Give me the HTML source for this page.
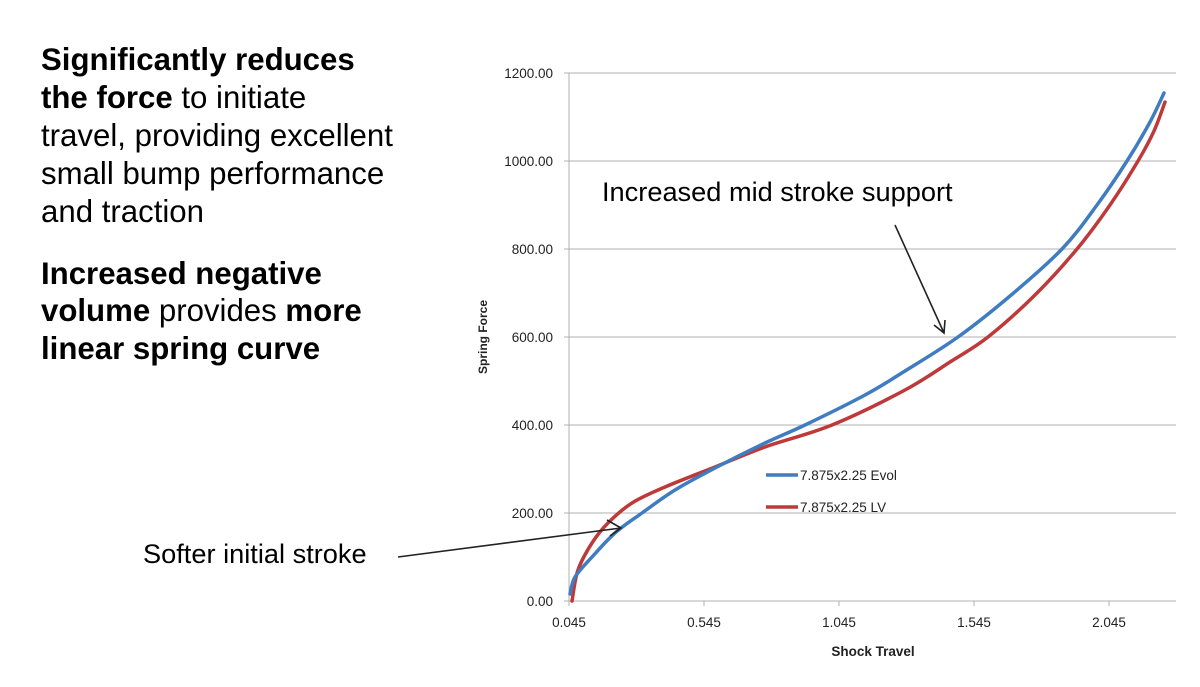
<!DOCTYPE html>
<html><head><style>
body{margin:0;background:#fff;width:1200px;height:687px;overflow:hidden}
</style></head><body>
<svg width="1200" height="687" xmlns="http://www.w3.org/2000/svg" style="position:absolute;left:0;top:0">
<g font-family="Liberation Sans, Arial, sans-serif" font-size="31.2" fill="#000">
<text x="41" y="70" font-weight="bold">Significantly reduces</text>
<text x="41" y="108"><tspan font-weight="bold">the force</tspan> to initiate</text>
<text x="41" y="146">travel, providing excellent</text>
<text x="41" y="184">small bump performance</text>
<text x="41" y="222">and traction</text>
<text x="41" y="284" font-weight="bold">Increased negative</text>
<text x="41" y="321"><tspan font-weight="bold">volume</tspan> provides <tspan font-weight="bold">more</tspan></text>
<text x="41" y="359" font-weight="bold">linear spring curve</text>
<text x="143" y="563" font-size="27.2">Softer initial stroke</text>
<text x="602" y="201" font-size="27.2">Increased mid stroke support</text>
</g>
<g stroke="#b0b0b0" stroke-width="1">
<line x1="569" y1="73" x2="1176" y2="73"/>
<line x1="569" y1="161" x2="1176" y2="161"/>
<line x1="569" y1="249" x2="1176" y2="249"/>
<line x1="569" y1="337" x2="1176" y2="337"/>
<line x1="569" y1="425" x2="1176" y2="425"/>
<line x1="569" y1="513" x2="1176" y2="513"/>
<line x1="569" y1="601" x2="1176" y2="601"/>
<line x1="569" y1="73" x2="569" y2="606"/>
<line x1="564" y1="73" x2="569" y2="73"/><line x1="564" y1="161" x2="569" y2="161"/>
<line x1="564" y1="249" x2="569" y2="249"/><line x1="564" y1="337" x2="569" y2="337"/>
<line x1="564" y1="425" x2="569" y2="425"/><line x1="564" y1="513" x2="569" y2="513"/>
<line x1="564" y1="601" x2="569" y2="601"/>
<line x1="704" y1="601" x2="704" y2="606"/><line x1="839" y1="601" x2="839" y2="606"/>
<line x1="974" y1="601" x2="974" y2="606"/><line x1="1109" y1="601" x2="1109" y2="606"/>
</g>
<g font-family="Liberation Sans, Arial, sans-serif" font-size="13.5" fill="#222" text-anchor="end">
<text x="553" y="78">1200.00</text><text x="553" y="166">1000.00</text>
<text x="553" y="254">800.00</text><text x="553" y="342">600.00</text>
<text x="553" y="430">400.00</text><text x="553" y="518">200.00</text>
<text x="553" y="606">0.00</text>
</g>
<g font-family="Liberation Sans, Arial, sans-serif" font-size="13.5" fill="#222" text-anchor="middle">
<text x="569" y="627">0.045</text><text x="704" y="627">0.545</text>
<text x="839" y="627">1.045</text><text x="974" y="627">1.545</text>
<text x="1109" y="627">2.045</text>
<text x="873" y="656" font-weight="bold">Shock Travel</text>
<text transform="translate(487,337) rotate(-90)" font-weight="bold" font-size="12">Spring Force</text>
</g>
<g fill="none" stroke-width="3.5" stroke-linejoin="round" stroke-linecap="round">
<path id="red" stroke="#be3a3a" d=""/>
<path id="blue" stroke="#3f7cc0" d=""/>
</g>
<line x1="766" y1="475" x2="798" y2="475" stroke="#3f7cc0" stroke-width="3.5"/>
<line x1="766" y1="507" x2="798" y2="507" stroke="#be3a3a" stroke-width="3.5"/>
<g font-family="Liberation Sans, Arial, sans-serif" font-size="13.5" fill="#222">
<text x="800" y="480">7.875x2.25 Evol</text>
<text x="800" y="512">7.875x2.25 LV</text>
</g>
<g stroke="#222" stroke-width="1.6" fill="none">
<line x1="398" y1="557" x2="621" y2="528"/>
<polyline points="607,520 621,528 610,536"/>
<line x1="895" y1="225" x2="944" y2="333"/>
<polyline points="934,325 944,333 945,320"/>
</g>
</svg>
<script>
function cr(p){var d="M"+p[0][0]+","+p[0][1];for(var i=0;i<p.length-1;i++){var p0=p[i-1]||p[i],p1=p[i],p2=p[i+1],p3=p[i+2]||p2;
d+=" C"+(p1[0]+(p2[0]-p0[0])/6)+","+(p1[1]+(p2[1]-p0[1])/6)+" "+(p2[0]-(p3[0]-p1[0])/6)+","+(p2[1]-(p3[1]-p1[1])/6)+" "+p2[0]+","+p2[1];}return d;}
var blue=[[570,594],[575,577],[592,557],[615,533],[642,513],[675,490],[715,468],[765,443],[805,425],[865,395],[905,371],[958,337],[1010,296],[1062,249],[1097,205],[1127,161],[1150,122],[1164,93]];
var red=[[572,601],[578,570],[592,543],[608,523],[632,503],[665,487],[715,467],[765,447],[832,425],[905,390],[950,362],[988,337],[1035,295],[1077,249],[1110,205],[1138,161],[1154,131],[1165,102]];
document.getElementById("blue").setAttribute("d",cr(blue));
document.getElementById("red").setAttribute("d",cr(red));
</script>
</body></html>
